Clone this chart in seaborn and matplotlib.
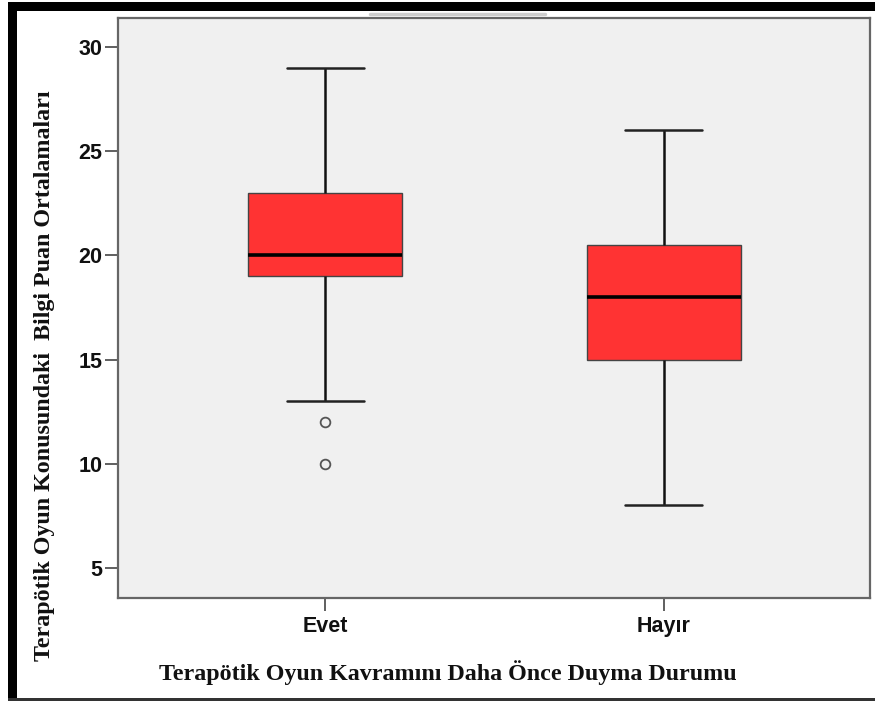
import matplotlib
matplotlib.use("Agg")
import matplotlib.pyplot as plt
import seaborn as sns
import pandas as pd
from matplotlib.patches import Rectangle
from matplotlib.lines import Line2D

# ---- data ----
categories = ["Evet", "Hayır"]
evet_scores = [10, 12, 13, 19, 19, 20, 20, 21, 23, 23, 23, 25, 29]
hayir_scores = [8, 12, 15, 16, 18, 19, 20.5, 22, 26]
y_ticks = [5, 10, 15, 20, 25, 30]
x_title = "Terapötik Oyun Kavramını Daha Önce Duyma Durumu"
y_title = "Terapötik Oyun Konusundaki  Bilgi Puan Ortalamaları"

df = pd.DataFrame({
    "grp": [categories[0]] * len(evet_scores) + [categories[1]] * len(hayir_scores),
    "score": evet_scores + hayir_scores,
})

sns.set_theme(style="white")
plt.rcParams["font.family"] = ["Liberation Sans", "DejaVu Sans"]

W, H = 875, 701
fig = plt.figure(figsize=(W / 100, H / 100), dpi=100)
fig.patch.set_facecolor("white")

L, R, T, B = 118, 870, 18, 598
ax = fig.add_axes([L / W, 1 - B / H, (R - L) / W, (B - T) / H])
ax.set_facecolor("#F0F0F0")

sns.boxplot(
    data=df, x="grp", y="score", order=categories, ax=ax,
    width=0.456, whis=1.5, color="#FF3333", saturation=1,
    linecolor="#333333", linewidth=1.2,
    boxprops=dict(edgecolor="#444444", linewidth=1.0),
    medianprops=dict(color="black", linewidth=2.6),
    whiskerprops=dict(color="#111111", linewidth=1.8),
    capprops=dict(color="#222222", linewidth=1.8),
    flierprops=dict(marker="o", markersize=7, markerfacecolor="none",
                    markeredgecolor="#555555", markeredgewidth=1.3),
)

ax.set_xlim(-0.612, 1.609)
ax.set_ylim(3.56, 31.39)
ax.set_yticks(y_ticks)
ax.set_yticklabels([str(v) for v in y_ticks], fontweight="bold")
for t in ax.get_xticklabels():
    t.set_fontweight("bold")
ax.set_xlabel("")
ax.set_ylabel("")

for s in ax.spines.values():
    s.set_visible(True)
    s.set_color("#666666")
    s.set_linewidth(1.6)

ax.tick_params(axis="y", which="major", left=True, length=9.5, width=1.2,
               color="#444444", pad=1.5, labelsize=15.5, labelcolor="#111111")
ax.tick_params(axis="x", which="major", bottom=True, length=9, width=1.2,
               color="#444444", pad=4, labelsize=15.5, labelcolor="#111111")

# axis titles (SPSS-style serif bold)
fig.text(448 / W, 1 - 673 / H, x_title, ha="center", va="center",
         fontsize=17.3, fontweight="bold", family=["Liberation Serif", "DejaVu Serif"],
         color="#111111")
fig.text(45 / W, 1 - 376 / H, y_title, ha="center", va="center", rotation=90,
         fontsize=17.3, fontweight="bold", family=["Liberation Serif", "DejaVu Serif"],
         color="#111111")

# frame decorations of the screenshot
fig.patches.append(Rectangle((8 / W, 0), 9 / W, 1 - 2 / H, transform=fig.transFigure,
                             facecolor="black", edgecolor="none", zorder=5))
fig.patches.append(Rectangle((8 / W, 1 - 11 / H), 1 - 8 / W, 9 / H, transform=fig.transFigure,
                             facecolor="black", edgecolor="none", zorder=5))
fig.patches.append(Rectangle((8 / W, 0), 1 - 8 / W, 3 / H, transform=fig.transFigure,
                             facecolor="#333333", edgecolor="none", zorder=5))
fig.lines.append(Line2D([370 / W, 545 / W], [1 - 14 / H, 1 - 14 / H], transform=fig.transFigure,
                        color="#cccccc", linewidth=2.5, zorder=4))

fig.savefig("out.png", dpi=100)
